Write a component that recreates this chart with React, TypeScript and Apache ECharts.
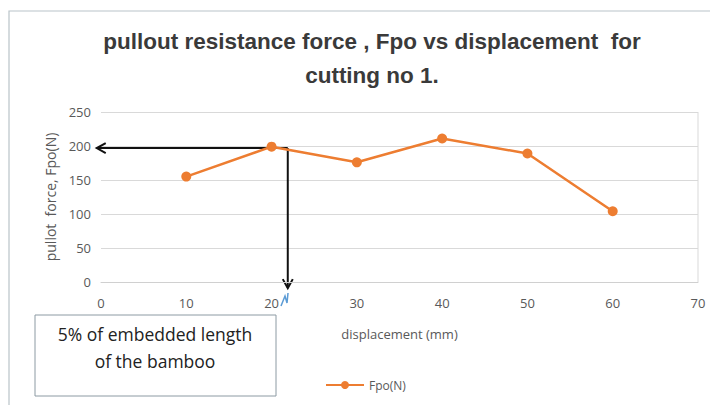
import React, { useEffect, useRef } from "react";
import * as echarts from "echarts";

const displacement = [10, 20, 30, 40, 50, 60];
const force = [155, 199, 176, 211, 189, 104];
const xTicks = [0, 10, 20, 30, 40, 50, 60, 70];
const yTicks = [0, 50, 100, 150, 200, 250];
const annotX = 21.9; // displacement at arrow corner
const annotY = 197; // force at arrow corner
const titleLines = ["pullout resistance force , Fpo vs displacement  for", "cutting no 1."];
const noteLines = ["5% of embedded length", "of the bamboo"];

const ORANGE = "#ED7D31";
const GRAY = "#595959";

export default function App() {
  const ref = useRef<HTMLDivElement>(null);
  useEffect(() => {
    if (!ref.current) return;
    const chart = echarts.init(ref.current, undefined, { renderer: "svg" });
    const font = "Open Sans, Liberation Sans, sans-serif";
    chart.setOption({
      animation: false,
      backgroundColor: "#fff",
      textStyle: { fontFamily: font },
      title: {
        text: titleLines.join("\n"),
        left: 367,
        textAlign: "center",
        top: 19,
        textStyle: { fontSize: 22.5, fontWeight: "bold", color: "#3a3a3a", lineHeight: 34, fontFamily: "Liberation Sans, sans-serif" },
      },
      legend: {
        data: ["Fpo(N)"],
        left: 320,
        top: 374,
        itemWidth: 38,
        itemHeight: 10,
        itemGap: 4,
        textStyle: { color: GRAY, fontSize: 12, fontFamily: font },
      },
      grid: { left: 101, right: 12, top: 112, bottom: 123 },
      xAxis: {
        type: "value",
        min: xTicks[0],
        max: xTicks[xTicks.length - 1],
        interval: 10,
        name: "displacement (mm)",
        nameLocation: "middle",
        nameGap: 45,
        nameTextStyle: { color: GRAY, fontSize: 13 },
        axisLine: { lineStyle: { color: "#d0d0d0" } },
        axisTick: { show: false },
        splitLine: { show: false },
        axisLabel: { color: GRAY, fontSize: 13, margin: 14 },
      },
      yAxis: {
        type: "value",
        min: yTicks[0],
        max: yTicks[yTicks.length - 1],
        interval: 50,
        name: "pullot  force, Fpo(N)",
        nameLocation: "middle",
        nameGap: 42,
        nameTextStyle: { color: GRAY, fontSize: 14 },
        axisLine: { show: false },
        axisTick: { show: false },
        splitLine: { lineStyle: { color: "#d9d9d9" } },
        axisLabel: { color: GRAY, fontSize: 13, margin: 10 },
      },
      series: [
        {
          name: "Fpo(N)",
          type: "line",
          data: displacement.map((d, i) => [d, force[i]]),
          color: ORANGE,
          symbol: "circle",
          symbolSize: 10,
          lineStyle: { width: 2.5, color: ORANGE },
          itemStyle: { color: ORANGE },
        },
      ],
    });

    const corner = chart.convertToPixel({ gridIndex: 0 }, [annotX, annotY]) as number[];
    const leftEnd = chart.convertToPixel({ gridIndex: 0 }, [-0.5, annotY]) as number[];
    const bottomEnd = chart.convertToPixel({ gridIndex: 0 }, [annotX, -9]) as number[];
    const topRight = chart.convertToPixel({ gridIndex: 0 }, [70, 250]) as number[];
    const botRight = chart.convertToPixel({ gridIndex: 0 }, [70, 0]) as number[];
    const arrowStyle = { stroke: "#111", lineWidth: 2, fill: null };

    chart.setOption({
      graphic: [
        { type: "rect", shape: { x: 9, y: 11, width: 720, height: 400 }, style: { fill: null, stroke: "#b9c3c9", lineWidth: 1.2 }, silent: true },
        { type: "line", shape: { x1: topRight[0], y1: topRight[1], x2: botRight[0], y2: botRight[1] }, style: { stroke: "#d9d9d9", lineWidth: 1 } },
        { type: "polyline", shape: { points: [[corner[0], corner[1]], [leftEnd[0], leftEnd[1]]] }, style: arrowStyle },
        { type: "polyline", shape: { points: [[leftEnd[0] + 9, leftEnd[1] - 5], [leftEnd[0], leftEnd[1]], [leftEnd[0] + 9, leftEnd[1] + 5]] }, style: arrowStyle },
        { type: "polyline", shape: { points: [[corner[0], corner[1]], [bottomEnd[0], bottomEnd[1]]] }, style: arrowStyle },
        { type: "polyline", shape: { points: [[bottomEnd[0] - 5, bottomEnd[1] - 9], [bottomEnd[0], bottomEnd[1]], [bottomEnd[0] + 5, bottomEnd[1] - 9]] }, style: arrowStyle },
        { type: "polyline", shape: { points: [[281, 306], [285, 296], [287, 303], [288, 293]] }, style: { stroke: "#5B9BD5", lineWidth: 1.5, fill: null } },
        { type: "rect", shape: { x: 35, y: 315, width: 241, height: 81 }, style: { fill: "#fff", stroke: "#8c9aa3", lineWidth: 1 } },
        {
          type: "text",
          x: 155,
          y: 334,
          style: { text: noteLines[0], fill: "#222", fontSize: 17.5, fontFamily: font, textAlign: "center", textVerticalAlign: "middle" },
        },
        {
          type: "text",
          x: 155,
          y: 361,
          style: { text: noteLines[1], fill: "#222", fontSize: 17.5, fontFamily: font, textAlign: "center", textVerticalAlign: "middle" },
        },
      ],
    });
    return () => chart.dispose();
  }, []);
  return <div ref={ref} style={{ width: 710, height: 405, position: "absolute", left: 0, top: 0 }} />;
}
